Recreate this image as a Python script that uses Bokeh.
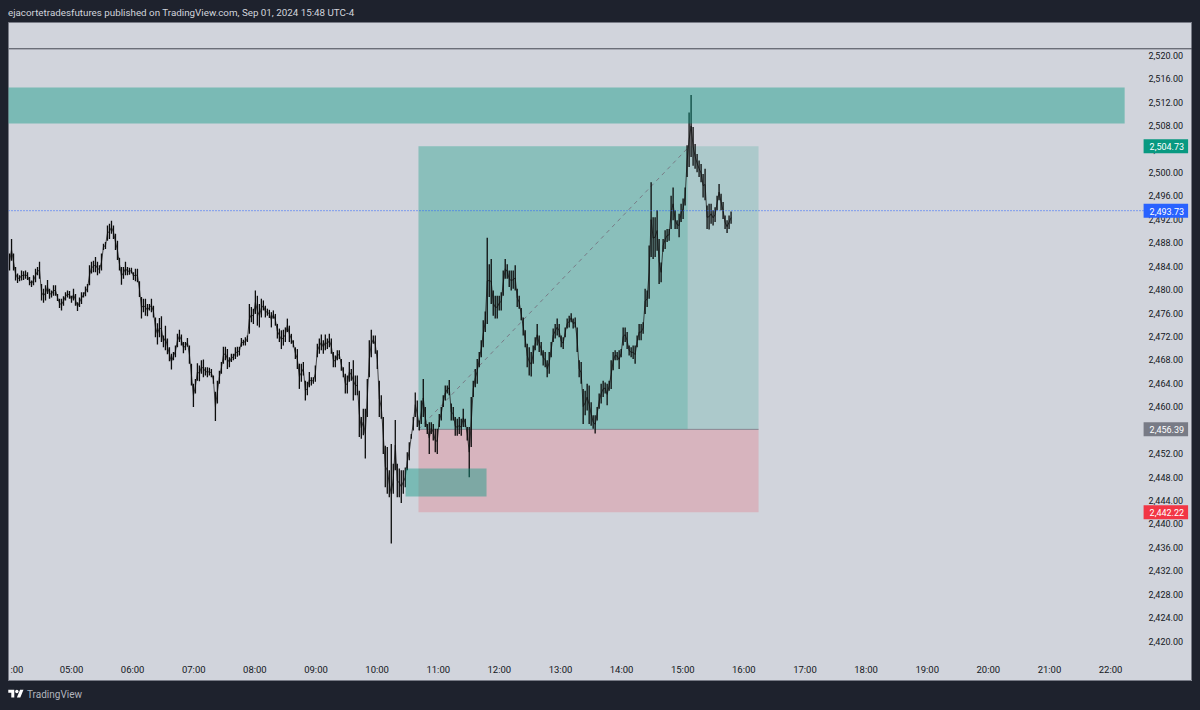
from bokeh.embed import file_html
from bokeh.layouts import column
from bokeh.models import (Div, FixedTicker, Label, NumeralTickFormatter, Range1d, Span)
from bokeh.plotting import figure
from bokeh.resources import INLINE

# ---------- data ----------
title_text = "ejacortetradesfutures published on TradingView.com, Sep 01, 2024 15:48 UTC-4"
brand_text = "TradingView"
cut_hour_label = ":00"
cut_hour = 4

hour_ticks = [5, 6, 7, 8, 9, 10, 11, 12, 13, 14, 15, 16, 17, 18, 19, 20, 21, 22]
hour_labels = ["05:00", "06:00", "07:00", "08:00", "09:00", "10:00", "11:00", "12:00", "13:00",
               "14:00", "15:00", "16:00", "17:00", "18:00", "19:00", "20:00", "21:00", "22:00"]
price_ticks = [2420, 2424, 2428, 2432, 2436, 2440, 2444, 2448, 2452, 2456, 2460, 2464, 2468, 2472, 2476,
               2480, 2484, 2488, 2492, 2496, 2500, 2504, 2508, 2512, 2516, 2520]

first_bar_hour = 3.986
bar_step_hours = 0.0327

bar_highs = [
    2486.4, 2488.9, 2486.4, 2484.1, 2483.0, 2482.7, 2483.5, 2483.4, 2483.5, 2483.2,
    2482.4, 2481.8, 2482.7, 2483.8, 2484.1, 2485.0, 2481.2, 2480.4, 2481.0, 2481.9,
    2480.4, 2480.1, 2481.0, 2481.0, 2479.5, 2478.7, 2478.7, 2479.1, 2479.8, 2480.1,
    2480.0, 2479.2, 2480.4, 2479.5, 2478.1, 2478.9, 2479.8, 2479.8, 2480.8, 2481.2,
    2484.4, 2485.0, 2485.2, 2485.8, 2485.0, 2484.4, 2486.4, 2488.1, 2488.4, 2491.2,
    2491.5, 2492.0, 2491.2, 2489.8, 2488.6, 2485.7, 2484.1, 2484.1, 2485.0, 2484.1,
    2484.0, 2484.0, 2483.2, 2483.8, 2483.8, 2481.7, 2479.0, 2478.7, 2478.7, 2477.8,
    2477.8, 2478.7, 2477.5, 2475.5, 2474.5, 2475.4, 2475.7, 2472.4, 2474.1, 2471.9,
    2470.4, 2469.3, 2469.6, 2470.7, 2472.7, 2473.4, 2472.6, 2471.3, 2471.3, 2472.0,
    2470.7, 2467.6, 2464.2, 2465.0, 2467.7, 2467.3, 2468.2, 2468.3, 2467.0, 2467.0,
    2466.9, 2466.7, 2465.6, 2462.8, 2464.7, 2466.4, 2467.9, 2470.5, 2470.5, 2470.1,
    2468.7, 2469.3, 2469.3, 2470.4, 2470.5, 2470.5, 2472.0, 2471.7, 2472.1, 2472.4,
    2477.8, 2477.3, 2477.0, 2480.1, 2479.2, 2477.8, 2478.7, 2478.4, 2477.5, 2477.0,
    2476.8, 2476.4, 2476.7, 2476.1, 2474.4, 2473.6, 2473.3, 2473.4, 2473.8, 2475.3,
    2474.1, 2472.7, 2471.6, 2470.4, 2470.1, 2467.6,
    2467.6, 2467.9, 2464.7, 2464.5, 2466.2, 2465.3, 2465.3, 2467.3, 2471.0, 2471.9,
    2472.6, 2471.6, 2472.6, 2471.9, 2472.7, 2471.9, 2469.6, 2469.0, 2469.9, 2469.9,
    2468.4, 2467.0, 2465.9, 2465.6, 2467.9, 2466.7, 2468.2, 2465.6, 2465.6, 2463.0,
    2458.5, 2459.9, 2459.9, 2465.0, 2471.6, 2473.4, 2472.4, 2472.4, 2469.9, 2464.7,
    2462.2, 2458.5, 2453.6, 2453.4, 2449.4, 2453.9, 2450.5, 2458.0, 2450.5, 2449.7,
    2449.4, 2449.4, 2449.9, 2452.5, 2454.2, 2455.6, 2458.5, 2462.7, 2461.3, 2457.9,
    2461.3, 2465.0, 2460.2, 2457.3, 2457.6, 2457.6, 2457.3, 2456.5, 2456.5, 2459.0,
    2460.2, 2462.2, 2463.9, 2463.9, 2464.8, 2460.8, 2460.2, 2458.5, 2458.2, 2458.5,
    2458.2, 2459.9, 2458.2, 2456.8, 2456.8, 2461.9, 2464.7, 2466.7, 2468.4, 2469.6,
    2471.6, 2475.0, 2476.5,
    2489.1, 2484.6, 2485.5, 2480.1, 2479.2, 2479.2, 2479.2, 2479.8, 2483.5, 2485.5,
    2484.6, 2483.5, 2483.5, 2483.5, 2484.4, 2480.4, 2479.2, 2477.1, 2475.5, 2473.3,
    2471.0, 2470.4, 2469.6, 2470.7, 2472.1, 2474.4, 2472.4, 2471.3, 2469.9, 2469.6,
    2468.2, 2469.6, 2471.3, 2473.6, 2474.4, 2475.3, 2474.4, 2472.4, 2472.1, 2473.8,
    2475.3, 2475.8, 2476.2, 2475.3, 2475.5, 2473.8, 2468.2, 2467.9, 2463.3, 2463.0,
    2464.2, 2463.9, 2461.0, 2458.8, 2458.8, 2460.2, 2462.5, 2464.2, 2464.7, 2464.4,
    2464.2, 2464.7, 2468.2, 2469.6, 2469.9, 2469.6, 2469.9, 2470.1, 2473.8, 2473.8,
    2473.0, 2470.7, 2470.4, 2470.7, 2470.7, 2472.4, 2474.4, 2474.4, 2474.7, 2480.4,
    2480.1, 2487.8,
    2498.6, 2492.6, 2492.6, 2493.8, 2488.9, 2484.9, 2488.9, 2490.4, 2490.6, 2490.6,
    2496.3, 2497.7, 2493.8, 2492.1, 2493.2, 2494.9, 2495.8, 2497.7, 2504.9, 2510.5,
    2513.5, 2508.0, 2505.1, 2503.4, 2502.3, 2501.7, 2500.0, 2500.9, 2494.6, 2494.9,
    2494.9, 2493.8, 2494.3, 2496.3, 2498.3, 2496.6, 2495.2, 2492.9, 2492.1, 2492.9,
    2493.6,
]

bar_lows = [
    2483.5, 2485.2, 2483.5, 2481.8, 2481.4, 2481.7, 2481.8, 2481.9, 2482.1, 2481.9,
    2481.0, 2480.7, 2481.0, 2481.5, 2482.7, 2482.1, 2478.4, 2478.0, 2478.4, 2479.5,
    2478.7, 2478.9, 2479.2, 2479.2, 2478.3, 2477.1, 2476.7, 2477.5, 2478.4, 2478.9,
    2478.7, 2478.0, 2478.4, 2477.5, 2476.6, 2477.3, 2477.8, 2478.9, 2479.1, 2479.8,
    2481.0, 2483.0, 2483.2, 2483.2, 2482.7, 2483.0, 2483.5, 2487.0, 2487.2, 2488.6,
    2488.9, 2489.8, 2488.9, 2487.0, 2485.3, 2483.5, 2481.1, 2482.1, 2482.7, 2482.7,
    2482.8, 2483.0, 2481.9, 2481.7, 2481.5, 2479.0, 2475.3, 2476.4, 2475.8, 2475.7,
    2476.7, 2476.4, 2475.5, 2472.1, 2470.9, 2472.1, 2471.3, 2470.4, 2469.9, 2469.2,
    2468.0, 2466.6, 2468.2, 2468.7, 2470.4, 2471.3, 2470.7, 2469.4, 2469.9, 2470.5,
    2467.6, 2463.9, 2460.2, 2462.5, 2464.7, 2464.6, 2465.9, 2465.3, 2465.6, 2465.3,
    2465.6, 2465.3, 2464.2, 2457.8, 2460.8, 2464.2, 2465.9, 2467.6, 2468.2, 2466.7,
    2467.0, 2467.9, 2468.2, 2468.4, 2468.8, 2469.0, 2470.5, 2470.7, 2470.7, 2471.3,
    2472.7, 2474.7, 2474.4, 2476.1, 2474.1, 2473.8, 2475.5, 2476.7, 2475.5, 2475.8,
    2475.4, 2473.8, 2475.3, 2474.1, 2471.9, 2471.3, 2470.1, 2470.7, 2471.3, 2473.0,
    2471.3, 2471.0, 2470.4, 2468.4, 2466.7, 2463.3,
    2464.5, 2465.6, 2461.3, 2462.2, 2463.6, 2463.9, 2464.2, 2464.5, 2468.7, 2469.3,
    2469.9, 2469.3, 2469.9, 2470.1, 2470.4, 2469.3, 2467.0, 2467.0, 2468.2, 2468.4,
    2466.4, 2465.3, 2462.5, 2462.5, 2464.5, 2464.7, 2461.3, 2462.2, 2462.2, 2455.1,
    2454.8, 2455.4, 2451.4, 2458.5, 2465.3, 2468.7, 2471.0, 2469.3, 2466.7, 2458.5,
    2458.2, 2452.2, 2446.5, 2445.4, 2444.8, 2436.9, 2445.4, 2449.4, 2444.8, 2444.8,
    2443.8, 2445.4, 2446.5, 2449.4, 2451.1, 2454.8, 2456.2, 2458.5, 2456.8, 2456.2,
    2457.3, 2458.5, 2456.8, 2455.6, 2452.2, 2455.6, 2454.5, 2452.5, 2452.2, 2456.8,
    2457.9, 2460.2, 2461.3, 2462.5, 2462.2, 2457.9, 2457.9, 2455.3, 2455.3, 2455.6,
    2455.3, 2456.8, 2456.8, 2454.5, 2448.2, 2453.4, 2461.9, 2463.6, 2464.2, 2467.0,
    2468.7, 2470.4, 2473.0,
    2474.4, 2479.0, 2477.8, 2475.8, 2475.3, 2475.3, 2476.7, 2476.7, 2479.2, 2482.1,
    2482.1, 2480.7, 2480.1, 2480.4, 2480.1, 2477.3, 2477.0, 2475.0, 2472.4, 2470.4,
    2467.0, 2465.6, 2465.4, 2467.6, 2469.9, 2470.7, 2469.6, 2469.0, 2467.3, 2467.0,
    2465.3, 2465.9, 2468.7, 2471.3, 2471.9, 2472.4, 2472.1, 2470.4, 2470.1, 2472.1,
    2473.6, 2473.8, 2474.7, 2473.6, 2473.8, 2469.6, 2465.3, 2464.2, 2457.3, 2458.8,
    2459.6, 2457.3, 2457.0, 2456.5, 2455.7, 2457.9, 2459.9, 2460.8, 2461.9, 2462.5,
    2460.5, 2463.0, 2463.3, 2466.5, 2468.2, 2468.2, 2466.7, 2468.7, 2470.7, 2471.3,
    2470.1, 2469.0, 2468.7, 2468.4, 2467.6, 2470.4, 2471.6, 2471.6, 2472.7, 2476.1,
    2477.3, 2478.7,
    2485.8, 2485.5, 2485.8, 2486.9, 2481.2, 2481.5, 2486.7, 2487.2, 2488.4, 2488.6,
    2490.6, 2492.1, 2490.6, 2490.6, 2489.2, 2491.8, 2492.3, 2494.6, 2499.5, 2501.2,
    2502.9, 2501.4, 2500.9, 2500.3, 2499.5, 2498.6, 2496.0, 2495.5, 2490.6, 2490.5,
    2491.5, 2491.2, 2491.8, 2493.8, 2495.5, 2493.8, 2492.3, 2490.6, 2489.9, 2490.6,
    2491.5,
]

zone_hours = [3.5, 22.23]
zone_prices = [2514.76, 2508.61]
small_zone_hours = [10.465, 11.79]
small_zone_prices = [2449.71, 2444.93]

entry_hour = 10.677
progress_hour = 15.08
end_hour = 16.24
peak_hour = 15.11
target_price = 2504.73
entry_price = 2456.39
stop_price = 2442.22
last_price = 2493.73
top_line_price = 2521.37

price_tags = [("2,504.73", target_price, "#089981"), ("2,493.73", last_price, "#2962ff"),
              ("2,456.39", entry_price, "#787b86"), ("2,442.22", stop_price, "#f23645")]

# chart window (whole light panel) and where the two scales sit inside it
view_hours = (3.969, 23.34)
view_prices = (2413.34, 2525.86)
price_axis_hour = 22.49
time_axis_price = 2417.44
time_label_price = 2415.45
tag_box_hour = 22.54
blue_line_end_hour = 22.54

# ---------- styles ----------
BG = "#d1d4dc"
FONT = "Roboto"
TEXT = "#131722"

bar_hours = [first_bar_hour + bar_step_hours * i for i in range(len(bar_highs))]
bar_mids = [(h + l) / 2 for h, l in zip(bar_highs, bar_lows)]
assert len(bar_highs) == len(bar_lows)

p = figure(width=1184, height=659, output_backend="svg", toolbar_location=None,
           x_range=Range1d(*view_hours), y_range=Range1d(*view_prices),
           x_axis_location="below", y_axis_location="right",
           min_border=0, background_fill_color=BG, border_fill_color=BG,
           outline_line_color="#787b86", outline_line_width=1)
p.grid.visible = False
# tick labels sit ~1.5px above their tick in the reference
p.extra_y_ranges = {"price_labels": Range1d(view_prices[0] - 0.25, view_prices[1] - 0.25)}

xa = p.xaxis[0]
xa.fixed_location = time_axis_price
xa.ticker = FixedTicker(ticks=hour_ticks)
xa.major_label_overrides = dict(zip(hour_ticks, hour_labels))
xa.axis_line_color = None
xa.major_tick_line_color = None
xa.minor_tick_line_color = None
xa.major_tick_out = 0
xa.major_tick_in = 0
xa.major_label_standoff = 7
xa.major_label_text_font = FONT
xa.major_label_text_font_size = "9.5px"
xa.major_label_text_color = TEXT

ya = p.yaxis[0]
ya.y_range_name = "price_labels"
ya.fixed_location = price_axis_hour
ya.ticker = FixedTicker(ticks=price_ticks)
ya.formatter = NumeralTickFormatter(format="0,0.00")
ya.axis_line_color = None
ya.major_tick_line_color = None
ya.minor_tick_line_color = None
ya.major_tick_out = 0
ya.major_tick_in = 0
ya.major_label_standoff = 8
ya.major_label_text_font = FONT
ya.major_label_text_font_size = "9px"
ya.major_label_text_color = TEXT

# position tool (under the candles)
p.quad(left=entry_hour, right=end_hour, bottom=entry_price, top=target_price,
       fill_color="#089981", fill_alpha=0.18, line_color=None)
p.quad(left=entry_hour, right=progress_hour, bottom=entry_price, top=target_price,
       fill_color="#089981", fill_alpha=0.207, line_color=None)
p.quad(left=entry_hour, right=end_hour, bottom=stop_price, top=entry_price,
       fill_color="#f23645", fill_alpha=0.2, line_color=None)
p.line([entry_hour, end_hour], [entry_price, entry_price], line_color="#787b86", line_width=1, line_alpha=0.8)
p.line([entry_hour, peak_hour], [entry_price, target_price], line_color="#787b86", line_width=1,
       line_dash=[4, 4])

# candles
p.line(bar_hours, bar_mids, line_color="#222222", line_width=0.8)
p.segment(x0=bar_hours, y0=bar_lows, x1=bar_hours, y1=bar_highs, line_color="#0c0c0c", line_width=1.3)

# zones above the candles
p.quad(left=zone_hours[0], right=zone_hours[1], bottom=zone_prices[1], top=zone_prices[0],
       fill_color="#089981", fill_alpha=0.43, line_color=None)
p.quad(left=small_zone_hours[0], right=small_zone_hours[1], bottom=small_zone_prices[1],
       top=small_zone_prices[0], fill_color="#089981", fill_alpha=0.43, line_color=None)

p.line([view_hours[0], blue_line_end_hour], [last_price, last_price], line_color="#2962ff", line_width=1,
       line_dash=[1, 2])
p.add_layout(Span(location=top_line_price, dimension="width", line_color="#434651", line_width=1))

p.add_layout(Label(x=cut_hour, y=time_label_price, text=cut_hour_label, text_color=TEXT,
                   text_font=FONT, text_font_size="9.5px", text_baseline="middle", text_align="left"))

for text, price, colour in price_tags:
    p.add_layout(Label(x=tag_box_hour, y=price, text=text,
                       text_color="#ffffff", text_font=FONT, text_font_size="9px",
                       text_baseline="middle", text_align="left",
                       background_fill_color=colour, padding=(6, 4, 4, 3)))

title_div = Div(text=title_text, width=1184, height=14, margin=(0, 0, 0, 0),
                styles={"color": "#d1d4dc", "font-family": FONT, "font-size": "9.8px", "line-height": "10px",
                        "white-space": "nowrap"})
logo = ('<svg width="16" height="12" viewBox="0 0 36 28" style="vertical-align:-2px;margin-right:3px">'
        '<path fill="#ffffff" d="M14 22H7V11H0V4h14v18zM28 22h-8l7.5-18h8L28 22z"/>'
        '<circle fill="#ffffff" cx="20" cy="8" r="4"/></svg>')
brand_div = Div(text=logo + brand_text, width=1184, height=21, margin=(0, 0, 0, 0),
                styles={"color": "#b2b5be", "font-family": FONT, "font-size": "10px", "line-height": "28px",
                        "white-space": "nowrap"})

page = column(title_div, p, brand_div, spacing=0)
html = file_html(page, INLINE)
html = html.replace("</head>", "<style>html,body{background:#1e222d;overflow:hidden;margin:0}"
                               "body{margin:8px !important}</style></head>", 1)
open("out.html", "w").write(html)
